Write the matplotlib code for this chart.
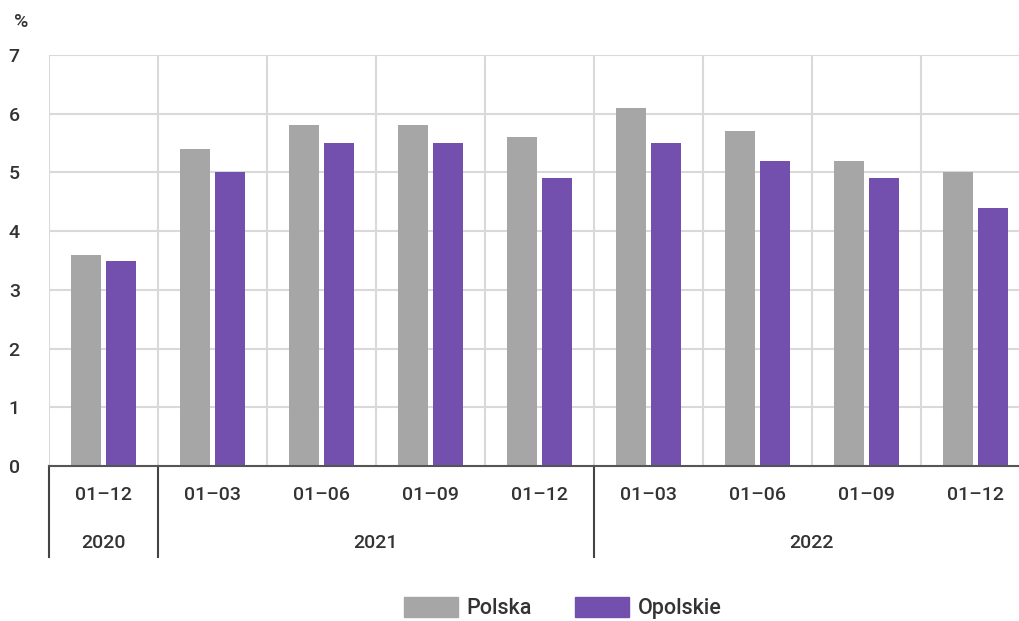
import numpy as np
import matplotlib
matplotlib.use("Agg")
import matplotlib.pyplot as plt
from matplotlib.patches import Patch

periods = ["01–12", "01–03", "01–06", "01–09", "01–12", "01–03", "01–06", "01–09", "01–12"]
years = ["2020", "2021", "2022"]
year_centers = [0, 2.5, 6.5]
year_bounds = [-0.5, 0.5, 4.5]
polska = [3.6, 5.4, 5.8, 5.8, 5.6, 6.1, 5.7, 5.2, 5.0]
opolskie = [3.5, 5.0, 5.5, 5.5, 4.9, 5.5, 5.2, 4.9, 4.4]

plt.rcParams['font.family'] = ['Roboto', 'DejaVu Sans']
plt.rcParams['font.weight'] = 'medium'
txt = '#333333'
gray = '#a6a6a6'
purple = '#734fae'
fs = 14

fig = plt.figure(figsize=(10.19, 6.21), dpi=100)
ax = fig.add_axes([49/1019, 1-466/621, 981/1019, 411/621])

x = np.arange(len(periods))
w = 0.275
ax.bar(x - 0.16, polska, w, color=gray, zorder=3)
ax.bar(x + 0.16, opolskie, w, color=purple, zorder=3)

ax.set_xlim(-0.5, 8.5)
ax.set_ylim(0, 7)
ax.set_yticks(range(8))
ax.set_yticklabels([str(i) for i in range(8)], fontsize=fs, color=txt)
ax.tick_params(axis='y', length=0, pad=21)
ax.set_xticks([])
for yv in range(1, 8):
    ax.axhline(yv, color='#d9d9d9', lw=1.5, zorder=1)
for xv in np.arange(-0.5, 8.5, 1.0):
    ax.axvline(xv, color='#d9d9d9', lw=1.5, zorder=1)
for s in ['top', 'right', 'left']:
    ax.spines[s].set_visible(False)
ax.spines['bottom'].set_color('#555555')
ax.spines['bottom'].set_linewidth(1.5)
ax.spines['bottom'].set_zorder(4)

trans = ax.get_xaxis_transform()
for i, p in enumerate(periods):
    ax.text(i, -0.07, p, transform=trans, ha='center', va='center', fontsize=fs, color=txt)
for yr, c in zip(years, year_centers):
    ax.text(c, -0.187, yr, transform=trans, ha='center', va='center', fontsize=fs, color=txt)
for b in year_bounds:
    ax.plot([b, b], [0, -0.222], transform=trans, color='#444444', lw=1.5, clip_on=False)

fig.text(21/1019, 1-22/621, '%', fontsize=fs, color=txt, ha='center', va='center')

handles = [Patch(color=gray, label='Polska'), Patch(color=purple, label='Opolskie')]
fig.legend(handles=handles, loc='center', bbox_to_anchor=(563/1019, 1-608/621), ncol=2,
           frameon=False, fontsize=15.5, handlelength=2.5, handleheight=1.05,
           columnspacing=2.0, handletextpad=0.4, labelcolor=txt)

fig.savefig('out.png', dpi=100)
